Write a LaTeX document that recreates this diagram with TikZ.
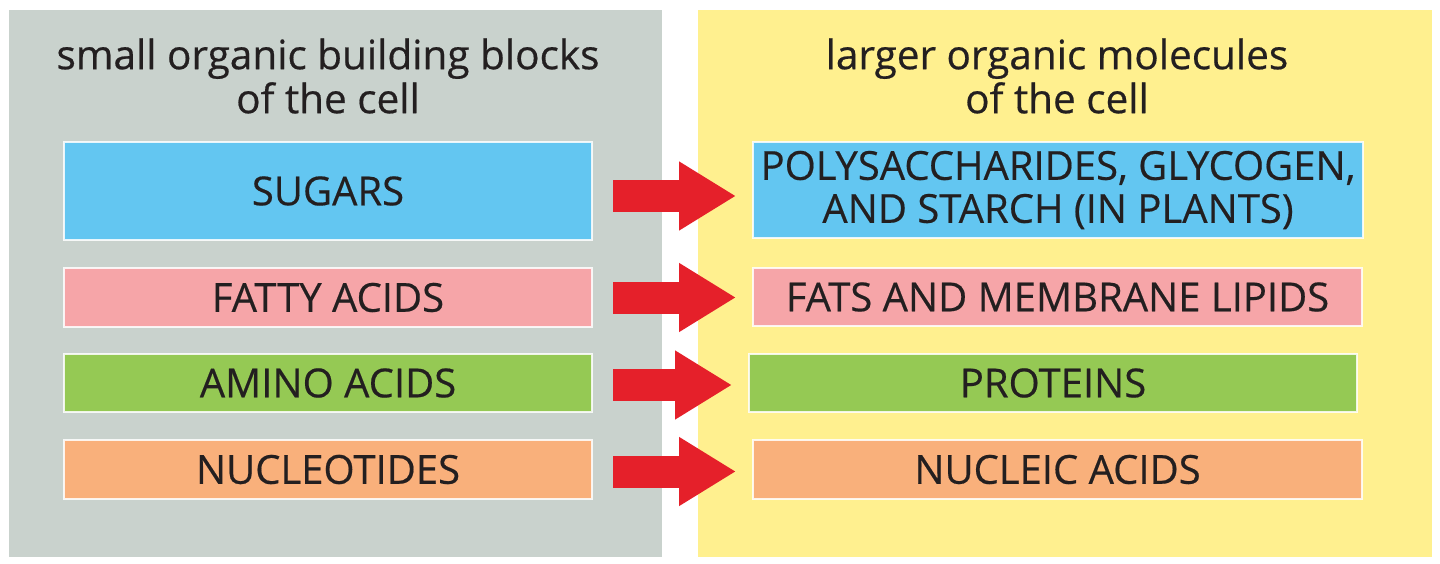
\documentclass[tikz,border=0pt]{standalone}
\usepackage{fontspec}
\setmainfont{Open Sans}
\newfontfamily\medfont{Open Sans}[FakeBold=0.5]
\usetikzlibrary{arrows.meta,calc}
\definecolor{panelgray}{HTML}{C9D2CD}
\definecolor{panelyellow}{HTML}{FFF08F}
\definecolor{cblue}{HTML}{63C6F1}
\definecolor{cpink}{HTML}{F6A5A8}
\definecolor{cgreen}{HTML}{95C954}
\definecolor{corange}{HTML}{F9B07B}
\definecolor{cred}{HTML}{E5202A}
\definecolor{ink}{HTML}{231F20}
\begin{document}
\begin{tikzpicture}[x=1pt,y=-1pt,
  panel/.style={draw=none,inner sep=0pt,anchor=north west},
  heading/.style={font=\medfont\fontsize{40.5}{44}\selectfont,text=ink,align=center,inner sep=0pt},
  molbox/.style={draw=white,draw opacity=0.85,line width=2pt,inner sep=0pt,
     font=\medfont\fontsize{40}{43}\selectfont,text=ink,align=center},
  bigarrow/.style={draw=cred,line width=32pt,line cap=butt,
     -{Triangle[length=57pt,width=65pt]}}
]
\useasboundingbox (0,0) rectangle (1440,564);
\fill[white] (0,0) rectangle (1440,564);
\node[panel,fill=panelgray,minimum width=653pt,minimum height=547pt] (lp) at (9,10) {};
\node[panel,fill=panelyellow,minimum width=734pt,minimum height=547pt] (rp) at (698,10) {};

\node[heading] (lh) at (328,76) {small organic building blocks\\of the cell};
\node[heading] (rh) at (1057,76) {larger organic molecules\\of the cell};

\node[molbox,fill=cblue,minimum width=528pt,minimum height=98pt] (s) at (328,191) {SUGARS};
\node[molbox,fill=cpink,minimum width=528pt,minimum height=59pt] (f) at (328,297.5) {FATTY ACIDS};
\node[molbox,fill=cgreen,minimum width=528pt,minimum height=58pt] (a) at (328,383) {AMINO ACIDS};
\node[molbox,fill=corange,minimum width=528pt,minimum height=59pt] (n) at (328,469.5) {NUCLEOTIDES};

\node[molbox,fill=cblue,minimum width=610pt,minimum height=96pt] (ps) at (1058,190) {POLYSACCHARIDES, GLYCOGEN,\\AND STARCH (IN PLANTS)};
\node[molbox,fill=cpink,minimum width=609pt,minimum height=58pt] (fl) at (1057.5,297) {FATS AND MEMBRANE LIPIDS};
\node[molbox,fill=cgreen,minimum width=608pt,minimum height=58pt] (pr) at (1053,383) {PROTEINS};
\node[molbox,fill=corange,minimum width=609pt,minimum height=59pt] (na) at (1057.5,469.5) {NUCLEIC ACIDS};

\draw[bigarrow] ($(s.east)+(20,5)$) -- ($(ps.west|-s.east)+(-16,5)$);
\draw[bigarrow] ($(f.east)+(20,0)$) -- ($(fl.west|-f.east)+(-16,0)$);
\draw[bigarrow] ($(a.east)+(20,2)$) -- ($(pr.west|-a.east)+(-16,2)$);
\draw[bigarrow] ($(n.east)+(20,2)$) -- ($(na.west|-n.east)+(-16,2)$);
\end{tikzpicture}
\end{document}
